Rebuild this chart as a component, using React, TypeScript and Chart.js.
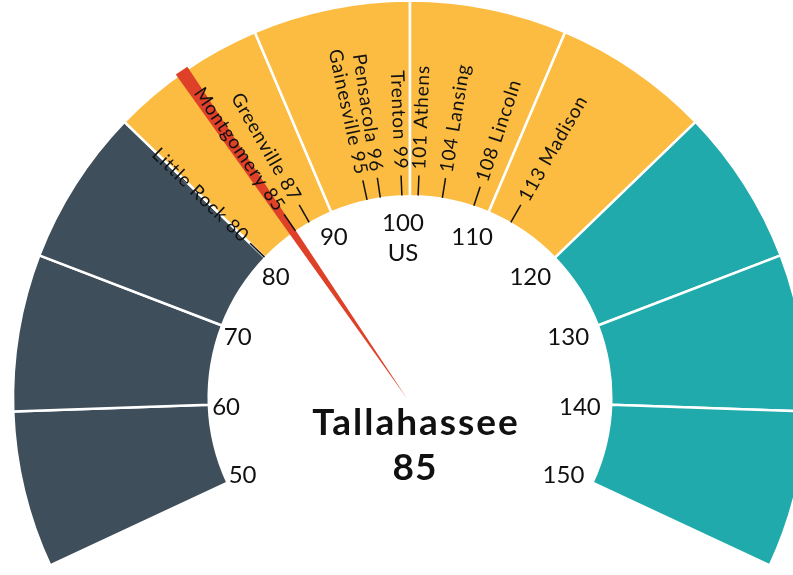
import React, { useEffect, useRef } from "react";
import { Chart, registerables } from "chart.js";

Chart.register(...registerables);

// ---- data ----
const gaugeMin = 50;
const gaugeMax = 150;
const bandLabels = ["50-60", "60-70", "70-80", "80-90", "90-100", "100-110", "110-120", "120-130", "130-140", "140-150"];
const bandValues = [10, 10, 10, 10, 10, 10, 10, 10, 10, 10];
const bandColors = [
  "#3e4e5a", "#3e4e5a", "#3e4e5a",
  "#fcbc42", "#fcbc42", "#fcbc42", "#fcbc42",
  "#21aaab", "#21aaab", "#21aaab",
];
const tickValues = [50, 60, 70, 80, 90, 100, 110, 120, 130, 140, 150];
const cityNames = ["Little Rock", "Montgomery", "Greenville", "Gainesville", "Pensacola", "Trenton", "Athens", "Lansing", "Lincoln", "Madison"];
const cityValues = [80, 85, 87, 95, 96, 99, 101, 104, 108, 113];
const focusCity = "Tallahassee";
const focusValue = 85;
const benchmarkName = "US";
const benchmarkValue = 100;

const FONT = "Lato, 'Noto Sans', sans-serif";

const gaugePlugin = {
  id: "gaugeOverlay",
  afterDatasetsDraw(chart: any) {
    const ctx: CanvasRenderingContext2D = chart.ctx;
    const meta = chart.getDatasetMeta(0);
    const arcs = meta.data;
    if (!arcs.length) return;
    const first = arcs[0];
    const last = arcs[arcs.length - 1];
    const cx = first.x;
    const cy = first.y;
    const rIn = first.innerRadius;
    const rOut = first.outerRadius;
    const a0 = first.startAngle;
    const a1 = last.endAngle;
    const ang = (v: number) => a0 + ((v - gaugeMin) / (gaugeMax - gaugeMin)) * (a1 - a0);

    ctx.save();

    // needle
    const na = ang(focusValue);
    const px = cx - 3;
    const py = cy + 1;
    const nx = Math.cos(na), ny = Math.sin(na);
    const perpX = -ny, perpY = nx;
    const len = rOut + 1;
    const half = 7;
    ctx.beginPath();
    ctx.moveTo(px, py);
    ctx.lineTo(px + nx * len + perpX * half, py + ny * len + perpY * half);
    ctx.lineTo(px + nx * len - perpX * half, py + ny * len - perpY * half);
    ctx.closePath();
    ctx.fillStyle = "#de4128";
    ctx.fill();

    // tick labels
    const lx = cx - 7;
    const ly = cy + 3;
    const labelR = 177;
    ctx.fillStyle = "#111";
    ctx.font = `24px ${FONT}`;
    ctx.textAlign = "center";
    ctx.textBaseline = "middle";
    tickValues.forEach((v) => {
      const a = ang(v);
      ctx.fillText(String(v), lx + Math.cos(a) * labelR, ly + Math.sin(a) * labelR);
    });
    const ba = ang(benchmarkValue);
    ctx.fillText(benchmarkName, lx + Math.cos(ba) * (labelR - 30), ly + Math.sin(ba) * (labelR - 30));

    // city markers: angles with simple collision avoidance
    const angles = cityValues.map((v) => ang(v));
    const minSep = (3.8 * Math.PI) / 180;
    for (let it = 0; it < 30; it++) {
      let moved = false;
      for (let i = 0; i < angles.length - 1; i++) {
        const gap = angles[i + 1] - angles[i];
        if (gap < minSep) {
          const d = (minSep - gap) / 2;
          angles[i] -= d;
          angles[i + 1] += d;
          moved = true;
        }
      }
      if (!moved) break;
    }

    const mid = (gaugeMin + gaugeMax) / 2;
    ctx.strokeStyle = "#111";
    ctx.lineWidth = 1.5;
    ctx.font = `19px ${FONT}`;
    (ctx as any).letterSpacing = "0.8px";
    cityNames.forEach((name, i) => {
      const v = cityValues[i];
      const a = angles[i];
      const c = Math.cos(a), s = Math.sin(a);
      ctx.beginPath();
      ctx.moveTo(cx + c * (rIn + 1), cy + s * (rIn + 1));
      ctx.lineTo(cx + c * (rIn + 21), cy + s * (rIn + 21));
      ctx.stroke();
      const tr = rIn + 27;
      ctx.save();
      ctx.translate(cx + c * tr, cy + s * tr);
      ctx.textBaseline = "middle";
      if (v < mid) {
        ctx.rotate(a + Math.PI);
        ctx.textAlign = "right";
        ctx.fillText(`${name} ${v}`, 0, 0);
      } else {
        ctx.rotate(a);
        ctx.textAlign = "left";
        ctx.fillText(`${v} ${name}`, 0, 0);
      }
      ctx.restore();
    });

    // center text
    ctx.fillStyle = "#111";
    ctx.textAlign = "center";
    ctx.textBaseline = "middle";
    ctx.font = `bold 37px ${FONT}`;
    (ctx as any).letterSpacing = "2px";
    ctx.fillText(focusCity, cx + 6, cy + 25);
    (ctx as any).letterSpacing = "1px";
    ctx.fillText(String(focusValue), cx + 5, cy + 70);
    (ctx as any).letterSpacing = "0px";

    ctx.restore();
  },
};

export default function App() {
  const canvasRef = useRef<HTMLCanvasElement | null>(null);

  useEffect(() => {
    if (!canvasRef.current) return;
    const chart = new Chart(canvasRef.current, {
      type: "doughnut",
      data: {
        labels: bandLabels,
        datasets: [
          {
            data: bandValues,
            backgroundColor: bandColors,
            borderColor: "#ffffff",
            borderWidth: 2.5,
            hoverOffset: 0,
            clip: false,
          } as any,
        ],
      },
      options: {
        responsive: false,
        animation: false,
        events: [],
        rotation: -115,
        circumference: 230,
        radius: 397,
        cutout: "50.7%",
        layout: { padding: { left: 27, top: 0, right: 0, bottom: 9 } },
        plugins: {
          legend: { display: false },
          tooltip: { enabled: false },
        },
      } as any,
      plugins: [gaugePlugin],
    });
    return () => chart.destroy();
  }, []);

  return (
    <div style={{ position: "fixed", left: 0, top: 0, width: 793, height: 575, background: "#fff" }}>
      <canvas ref={canvasRef} width={793} height={575} style={{ width: 793, height: 575, display: "block" }} />
    </div>
  );
}
